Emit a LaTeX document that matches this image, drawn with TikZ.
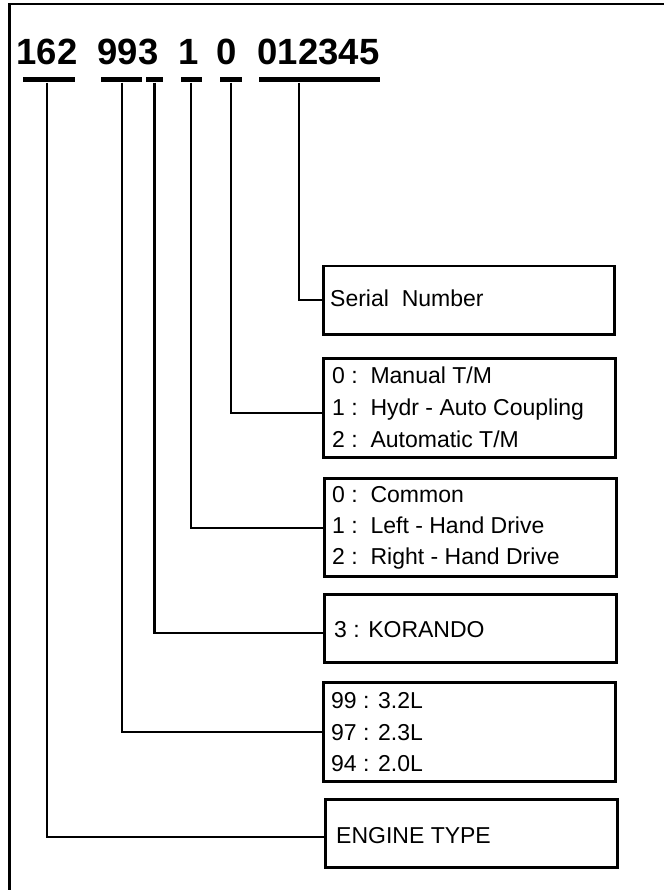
\documentclass[tikz,border=0pt]{standalone}
\usepackage{fontspec}
\setmainfont{Liberation Sans}
\begin{document}
\begin{tikzpicture}[x=1pt,y=-1pt,
  box/.style={draw, line width=2.5pt, anchor=north west, inner sep=0pt, minimum height=68pt},
  bar/.style={fill=black, draw=none, inner sep=0pt, minimum height=5pt},
  conn/.style={line width=2.2pt},
  frame/.style={line width=2.6pt},
  title/.style={anchor=base west, inner sep=0pt, font=\fontsize{36.5}{40}\selectfont\bfseries},
  lbl/.style={anchor=base west, inner sep=0pt, font=\fontsize{23}{28}\selectfont}]
\useasboundingbox (0,0) rectangle (663,890);
\draw[frame] (670,4) -- (9.3,4) -- (9.3,895);
% title digits
\node[title] (t162) at (16.5,65) {162};
\node[title] (t993) at (97.5,65) {993};
\node[title] (t1) at (178,65) {1};
\node[title] (t0) at (216.5,65) {0};
\node[title] (tser) at (257.5,65) {012345};
% bars
\node[bar, minimum width=52pt] (b162) at (49,80) {};
\node[bar, minimum width=41pt] (b99) at (121.5,80) {};
\node[bar, minimum width=17pt] (b3) at (154.5,80) {};
\node[bar, minimum width=21pt] (b1) at (191.5,80) {};
\node[bar, minimum width=22pt] (b0) at (231,80) {};
\node[bar, minimum width=121pt] (bser) at (319.5,80) {};
% boxes
\node[box, minimum width=291pt] (serial) at (322,265) {};
\node[box, minimum width=292pt, minimum height=99pt] (manual) at (322,357) {};
\node[box, minimum width=292pt, minimum height=98pt] (common) at (323,477) {};
\node[box, minimum width=292pt] (korando) at (323,593) {};
\node[box, minimum width=292pt, minimum height=99pt] (litre) at (322,681) {};
\node[box, minimum width=292pt] (engine) at (324,798) {};
% texts
\node[lbl] (st) at (330,306) {Serial\ \ Number};
\node[lbl] (m0) at (332,383) {0 :\ \ Manual T/M};
\node[lbl] (m1) at (332,415) {1 :\ \ Hydr - Auto Coupling};
\node[lbl] (m2) at (332,447) {2 :\ \ Automatic T/M};
\node[lbl] (c0) at (332,502) {0 :\ \ Common};
\node[lbl] (c1) at (332,533) {1 :\ \ Left - Hand Drive};
\node[lbl] (c2) at (332,564) {2 :\ \ Right - Hand Drive};
\node[lbl] (kt) at (334,637) {3 : KORANDO};
\node[lbl] (l0) at (331,708) {99 : 3.2L};
\node[lbl] (l1) at (331,740) {97 : 2.3L};
\node[lbl] (l2) at (331,771) {94 : 2.0L};
\node[lbl] (et) at (336,843) {ENGINE TYPE};
% connectors
\draw[conn] ([xshift=-20.5pt]bser.south) |- (serial.west);
\draw[conn] (b0.south) |- ([yshift=-5.5pt]manual.west);
\draw[conn] ([xshift=-0.5pt]b1.south) |- ([yshift=-1pt]common.west);
\draw[conn] (b3.south) |- ([yshift=-5pt]korando.west);
\draw[conn] ([xshift=0.5pt]b99.south) |- ([yshift=-0.5pt]litre.west);
\draw[conn] ([xshift=-2pt]b162.south) |- ([yshift=-4pt]engine.west);
\end{tikzpicture}
\end{document}
